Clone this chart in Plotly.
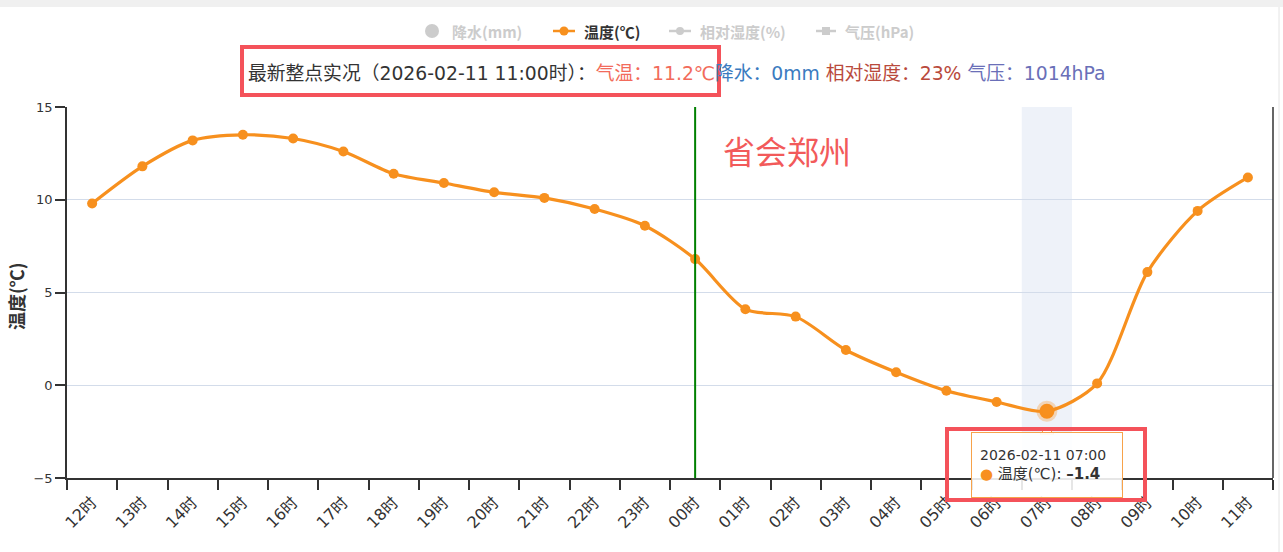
import plotly.graph_objects as go

# ---- data ----
hours = ['12时', '13时', '14时', '15时', '16时', '17时', '18时', '19时', '20时', '21时', '22时', '23时',
         '00时', '01时', '02时', '03时', '04时', '05时', '06时', '07时', '08时', '09时', '10时', '11时']
temps = [9.8, 11.8, 13.2, 13.5, 13.3, 12.6, 11.4, 10.9, 10.4, 10.1, 9.5, 8.6,
         6.8, 4.1, 3.7, 1.9, 0.7, -0.3, -0.9, -1.4, 0.1, 6.1, 9.4, 11.2]
y_ticks = [-5, 0, 5, 10, 15]
hover_index = 19          # 07时 highlighted
divider_index = 12        # 00时 day divider
hover_time = '2026-02-11 07:00'
obs_time = '2026-02-11 11:00时'
obs_temp = '11.2℃'
obs_rain = '0mm'
obs_rh = '23%'
obs_pres = '1014hPa'
legend_names = ['降水(mm)', '温度(℃)', '相对湿度(%)', '气压(hPa)']

W, H = 1283, 552
L, R, T, B = 67, 10, 107, 74
PW, PH = W - L - R, H - T - B
FONT = 'Noto Sans CJK SC, sans-serif'
LFONT = '"DejaVu Sans", "Noto Sans CJK SC", sans-serif'
ORANGE = '#f7901e'


def px(x):
    return (x - L) / PW


def py(y):
    return (H - B - y) / PH


fig = go.Figure()

fig.add_trace(go.Scatter(
    x=hours, y=temps, mode='lines+markers',
    line=dict(color=ORANGE, width=3.2, shape='spline', smoothing=0.8),
    marker=dict(color=ORANGE, size=10),
    showlegend=False, hoverinfo='skip'))

fig.add_trace(go.Scatter(
    x=[hours[hover_index]], y=[temps[hover_index]], mode='markers',
    marker=dict(color=ORANGE, size=15, line=dict(color='rgba(247,144,30,0.3)', width=6)),
    showlegend=False, hoverinfo='skip'))

shapes = []
# hover band
shapes.append(dict(type='rect', xref='x', yref='paper', x0=hover_index - 0.5, x1=hover_index + 0.5,
                   y0=0, y1=1, fillcolor='#eef2f9', line=dict(width=0), layer='below'))
# day divider
shapes.append(dict(type='line', xref='x', yref='paper', x0=divider_index, x1=divider_index,
                   y0=0, y1=1, line=dict(color='#008000', width=2)))
# right axis line
shapes.append(dict(type='line', xref='paper', yref='paper', x0=1, x1=1, y0=0, y1=1,
                   line=dict(color='#333333', width=1.5)))
# top gray strip
shapes.append(dict(type='rect', xref='paper', yref='paper', x0=px(0), x1=px(W), y0=py(7), y1=py(0),
                   fillcolor='#f0f0f0', line=dict(width=0)))
# right edge light line
shapes.append(dict(type='line', xref='paper', yref='paper', x0=px(1279), x1=px(1279), y0=py(552), y1=py(7),
                   line=dict(color='#e4e4e4', width=1)))
# tooltip pointer
shapes.append(dict(type='path', xref='paper', yref='paper',
                   path='M %f,%f L %f,%f L %f,%f Z' % (px(1040), py(434), px(1047), py(427), px(1054), py(434)),
                   fillcolor='white', line=dict(color='#f7a24a', width=1)))
# red highlight boxes
RED = '#f4525a'
shapes.append(dict(type='rect', xref='paper', yref='paper', x0=px(242), x1=px(719), y0=py(95), y1=py(47),
                   line=dict(color=RED, width=4)))
shapes.append(dict(type='rect', xref='paper', yref='paper', x0=px(947), x1=px(1145), y0=py(500), y1=py(429),
                   line=dict(color=RED, width=4)))

# legend markers
GRAY = '#cccccc'
ly = 31
shapes.append(dict(type='circle', xref='paper', yref='paper', x0=px(425), x1=px(439), y0=py(38), y1=py(24),
                   fillcolor=GRAY, line=dict(width=0)))
shapes.append(dict(type='line', xref='paper', yref='paper', x0=px(553), x1=px(575), y0=py(ly), y1=py(ly),
                   line=dict(color=ORANGE, width=2.5)))
shapes.append(dict(type='circle', xref='paper', yref='paper', x0=px(559.5), x1=px(568.5), y0=py(35.5), y1=py(26.5),
                   fillcolor=ORANGE, line=dict(width=0)))
shapes.append(dict(type='line', xref='paper', yref='paper', x0=px(669), x1=px(691), y0=py(ly), y1=py(ly),
                   line=dict(color=GRAY, width=2.5)))
shapes.append(dict(type='circle', xref='paper', yref='paper', x0=px(676), x1=px(684), y0=py(35), y1=py(27),
                   fillcolor=GRAY, line=dict(width=0)))
shapes.append(dict(type='line', xref='paper', yref='paper', x0=px(816), x1=px(836), y0=py(ly), y1=py(ly),
                   line=dict(color=GRAY, width=2.5)))
shapes.append(dict(type='rect', xref='paper', yref='paper', x0=px(822), x1=px(830), y0=py(35), y1=py(27),
                   fillcolor=GRAY, line=dict(width=0)))

annotations = []
leg_pos = [450, 582, 698, 843]
leg_col = [GRAY, '#333333', GRAY, GRAY]
for name, xpos, col in zip(legend_names, leg_pos, leg_col):
    annotations.append(dict(xref='paper', yref='paper', x=px(xpos), y=py(ly), xanchor='left', yanchor='middle',
                            text='<b>%s</b>' % name, showarrow=False,
                            font=dict(family=FONT, size=15, color=col)))

subtitle = ('<span style="color:#333333">最新整点实况（%s）：</span>'
            '<span style="color:#f26b5b">气温：%s</span>'
            '<span style="color:#3b7bbf">降水：%s</span> '
            '<span style="color:#b94a3c">相对湿度：%s</span> '
            '<span style="color:#6a6fb8">气压：%s</span>') % (obs_time, obs_temp, obs_rain, obs_rh, obs_pres)
annotations.append(dict(xref='paper', yref='paper', x=px(246), y=py(74), xanchor='left', yanchor='middle',
                        text=subtitle, showarrow=False, font=dict(family=LFONT, size=18.8, color='#333333')))

annotations.append(dict(xref='paper', yref='paper', x=px(787), y=py(150), xanchor='center', yanchor='middle',
                        text='省会郑州', showarrow=False, font=dict(family=FONT, size=32, color='#f25a5a')))

annotations.append(dict(xref='paper', yref='paper', x=px(16), y=py(296), xanchor='center', yanchor='middle',
                        text='<b>温度(℃)</b>', textangle=-90, showarrow=False,
                        font=dict(family=FONT, size=18, color='#333333')))

tooltip = ('%s<br><span style="font-size:15px"><span style="color:%s">●</span> 温度(℃): <b>%s</b></span>'
           % (hover_time, ORANGE, ('%.1f' % temps[hover_index]).replace('-', '–')))
annotations.append(dict(xref='paper', yref='paper', x=px(1047), y=py(465), xanchor='center', yanchor='middle',
                        text=tooltip, showarrow=False, align='left', width=134, height=48,
                        bgcolor='rgba(255,255,255,0.88)', bordercolor='#f7a24a', borderwidth=1, borderpad=8,
                        font=dict(family=LFONT, size=14, color='#333333')))

fig.update_layout(
    width=W, height=H, autosize=False,
    margin=dict(l=L, r=R, t=T, b=B, pad=0),
    paper_bgcolor='white', plot_bgcolor='white',
    showlegend=False,
    shapes=shapes, annotations=annotations,
    xaxis=dict(type='category', categoryorder='array', categoryarray=hours,
               range=[-0.5, len(hours) - 0.5], tickson='boundaries',
               ticks='outside', ticklen=10, tickcolor='#333333', tickwidth=1.5,
               showline=True, linecolor='#333333', linewidth=1.5,
               showgrid=False, tickangle=-45, ticklabelstandoff=7,
               tickfont=dict(family=LFONT, size=16, color='#333333')),
    yaxis=dict(range=[-5, 15], tickvals=y_ticks, ticks='outside', ticklen=10, tickcolor='#333333',
               tickwidth=1.5, showline=True, linecolor='#333333', linewidth=1.5,
               showgrid=True, gridcolor='#d3dcea', gridwidth=1, zeroline=False,
               tickfont=dict(family=LFONT, size=13, color='#333333')),
)

fig.write_html('out.html')
